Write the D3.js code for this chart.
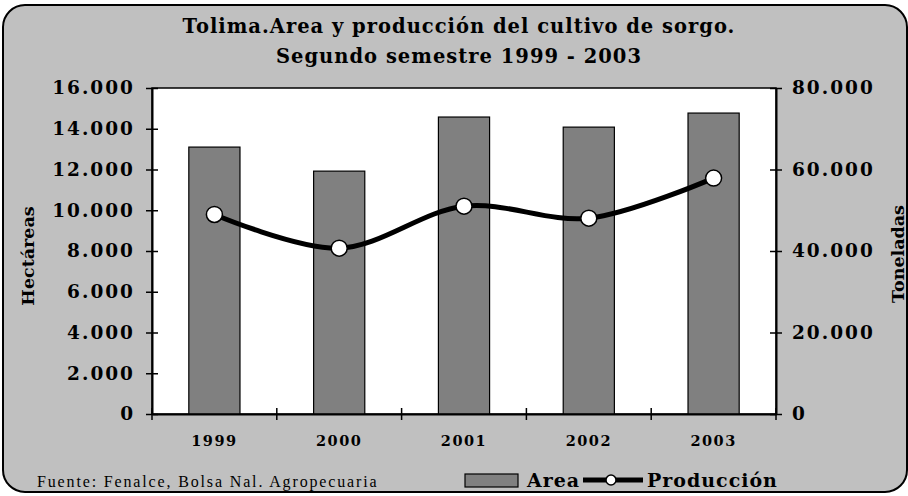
<!DOCTYPE html>
<html><head><meta charset="utf-8">
<script src="https://cdn.jsdelivr.net/npm/d3@7"></script>
<style>body{margin:0;background:#fff}svg{display:block}</style>
</head><body>
<svg id="c" width="908" height="496"></svg>
<script>
const years = ["1999","2000","2001","2002","2003"];
const area = [13100, 11920, 14575, 14080, 14770];
const produccion = [48970, 40700, 51000, 48060, 57890];
const leftTicks = [0,2000,4000,6000,8000,10000,12000,14000,16000];
const rightTicks = [0,20000,40000,60000,80000];
const titleLines = ["Tolima.Area y producción del cultivo de sorgo.","Segundo semestre 1999 - 2003"];

const svg = d3.select("#c");
const serif = "'DejaVu Serif', serif";
const times = "'Liberation Serif', serif";
const L = 152, R = 776, T = 88, B = 414;

svg.append("rect").attr("x",3).attr("y",5).attr("width",904).attr("height",487)
  .attr("rx",22).attr("fill","#c0c0c0").attr("stroke","#000").attr("stroke-width",2);

svg.append("rect").attr("x",L).attr("y",T).attr("width",R-L).attr("height",B-T)
  .attr("fill","#fff").attr("stroke","#000").attr("stroke-width",1.5);

const x = d3.scaleBand().domain(years).range([L,R]).paddingInner(0.59).paddingOuter(0.295);
const xb = d3.scaleBand().domain(years).range([L,R]);
const yL = d3.scaleLinear().domain([0,16000]).range([B,T]);
const yR = d3.scaleLinear().domain([0,80000]).range([B,T]);
const fmt = d => d3.format(",")(d).replace(/,/g,".");

svg.selectAll("rect.bar").data(area).join("rect").attr("class","bar")
  .attr("x",(d,i)=>x(years[i])).attr("width",x.bandwidth())
  .attr("y",d=>yL(d)).attr("height",d=>B-yL(d))
  .attr("fill","#808080").attr("stroke","#000").attr("stroke-width",1.2);

// axes
const axL = svg.append("g").attr("transform",`translate(${L},0)`)
  .call(d3.axisLeft(yL).tickValues(leftTicks).tickFormat(fmt).tickSizeInner(6).tickSizeOuter(0).tickPadding(11));
axL.selectAll(".tick line").attr("x1",-6).attr("x2",6);
const axR = svg.append("g").attr("transform",`translate(${R},0)`)
  .call(d3.axisRight(yR).tickValues(rightTicks).tickFormat(fmt).tickSizeInner(6).tickSizeOuter(0).tickPadding(10));
axR.selectAll(".tick line").attr("x1",-6).attr("x2",6);
const axB = svg.append("g").attr("transform",`translate(0,${B})`)
  .call(d3.axisBottom(xb).tickSize(0).tickPadding(22));
const bounds = years.map(y=>xb(y)).concat([R]);
svg.append("g").selectAll("line").data(bounds).join("line")
  .attr("x1",d=>d).attr("x2",d=>d).attr("y1",B-6).attr("y2",B+6).attr("stroke","#000").attr("stroke-width",1.5);
[axL,axR,axB].forEach(a=>{
  a.select(".domain").attr("stroke","#000").attr("stroke-width",2);
  a.selectAll(".tick line").attr("stroke","#000").attr("stroke-width",1.5);
});
axL.selectAll("text").attr("font-family",serif).attr("font-weight","bold").attr("font-size",18.5).attr("letter-spacing",2).attr("fill","#000");
axR.selectAll("text").attr("font-family",serif).attr("font-weight","bold").attr("font-size",18.5).attr("letter-spacing",2).attr("fill","#000");
axB.selectAll("text").attr("font-family",serif).attr("font-weight","bold").attr("font-size",14.5).attr("letter-spacing",1.5).attr("fill","#000");

// line
const line = d3.line().x((d,i)=>xb(years[i])+xb.bandwidth()/2).y(d=>yR(d)).curve(d3.curveCatmullRom.alpha(0.5));
svg.append("path").datum(produccion).attr("d",line).attr("fill","none").attr("stroke","#000").attr("stroke-width",5);
svg.selectAll("circle.pt").data(produccion).join("circle").attr("class","pt")
  .attr("cx",(d,i)=>xb(years[i])+xb.bandwidth()/2).attr("cy",d=>yR(d)).attr("r",8)
  .attr("fill","#fff").attr("stroke","#000").attr("stroke-width",1.5);

// titles
svg.append("g").selectAll("text").data(titleLines).join("text")
  .attr("x",459).attr("y",(d,i)=>33+i*30).attr("text-anchor","middle")
  .attr("font-family",serif).attr("font-weight","bold").attr("font-size",19.5).attr("letter-spacing",1).text(d=>d);

svg.append("text").attr("transform","translate(34,256) rotate(-90)").attr("text-anchor","middle")
  .attr("font-family",serif).attr("font-weight","bold").attr("font-size",17.5).text("Hectáreas");
svg.append("text").attr("transform","translate(904,254) rotate(-90)").attr("text-anchor","middle")
  .attr("font-family",serif).attr("font-weight","bold").attr("font-size",17.5).text("Toneladas");

// footer
svg.append("text").attr("x",37).attr("y",487).attr("font-family",times).attr("font-size",16).attr("letter-spacing",1.85)
  .text("Fuente: Fenalce, Bolsa Nal. Agropecuaria");

// legend
svg.append("rect").attr("x",465).attr("y",474).attr("width",53).attr("height",13)
  .attr("fill","#808080").attr("stroke","#000").attr("stroke-width",1.2);
svg.append("text").attr("x",527).attr("y",487).attr("font-family",serif).attr("font-weight","bold").attr("font-size",19).attr("letter-spacing",1).text("Area");
svg.append("line").attr("x1",583).attr("x2",643).attr("y1",480).attr("y2",480).attr("stroke","#000").attr("stroke-width",5);
svg.append("circle").attr("cx",611).attr("cy",480).attr("r",5).attr("fill","#fff").attr("stroke","#000").attr("stroke-width",1.5);
svg.append("text").attr("x",647).attr("y",487).attr("font-family",serif).attr("font-weight","bold").attr("font-size",19).attr("letter-spacing",1).text("Producción");
</script>
</body></html>
